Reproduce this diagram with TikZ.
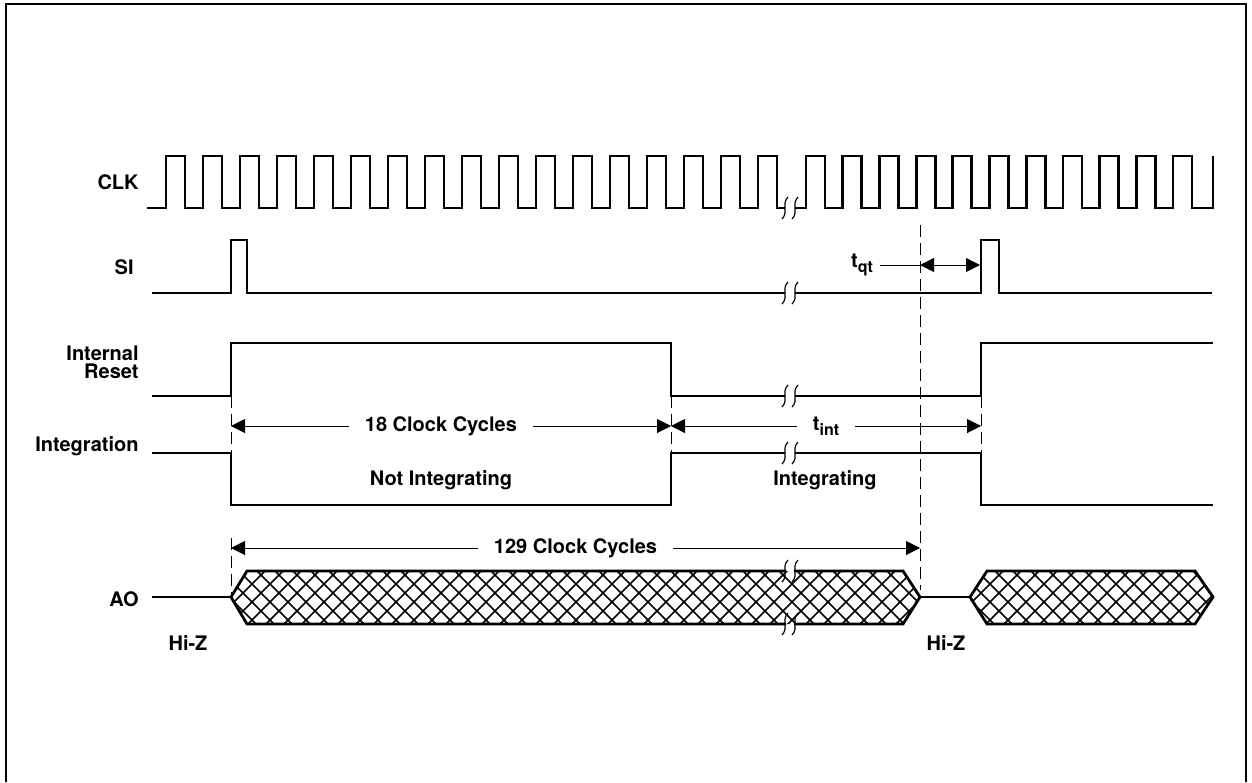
\documentclass[tikz,border=0pt]{standalone}
\usepackage{fontspec}
\setmainfont{TeX Gyre Heros}
\usetikzlibrary{arrows.meta,patterns}

\newcommand{\tsub}[1]{t\raisebox{-0.5ex}{\fontsize{8}{8}\selectfont #1}}

\pgfdeclarepatternformonly{aohatch}{\pgfqpoint{-1pt}{-1pt}}{\pgfqpoint{10pt}{10pt}}{\pgfqpoint{9pt}{9pt}}{%
  \pgfsetlinewidth{0.8pt}%
  \pgfpathmoveto{\pgfqpoint{0pt}{0pt}}\pgfpathlineto{\pgfqpoint{9pt}{9pt}}%
  \pgfpathmoveto{\pgfqpoint{0pt}{9pt}}\pgfpathlineto{\pgfqpoint{9pt}{0pt}}%
  \pgfusepath{stroke}}

\tikzset{
  sig/.style={line width=1.4pt, line join=miter},
  dim/.style={line width=0.5pt, {Triangle[length=7pt,width=7pt]}-{Triangle[length=7pt,width=7pt]}},
  ext/.style={line width=0.5pt, dash pattern=on 6pt off 3pt},
  lbl/.style={font={\bfseries\fontsize{10}{9}\selectfont}, anchor=east, inner xsep=1pt},
  txt/.style={font=\bfseries, fill=white, inner xsep=8pt},
  cut/.pic={
    \draw[line width=0.6pt] (-2,-11) .. controls (-9,-4) and (-1,4) .. (-8,11);
    \draw[line width=0.6pt] (8,-11) .. controls (1,-4) and (9,4) .. (2,11);
  },
  brk/.pic={
    \fill[white] (-2,-11) .. controls (-9,-4) and (-1,4) .. (-8,11) -- (2,11) .. controls (9,4) and (1,-4) .. (8,-11) -- cycle;
    \draw[line width=0.6pt] (-2,-11) .. controls (-9,-4) and (-1,4) .. (-8,11);
    \draw[line width=0.6pt] (8,-11) .. controls (1,-4) and (9,4) .. (2,11);
  }
}

\begin{document}
\begin{tikzpicture}[x=0.5pt, y=-0.5pt]
    \useasboundingbox (0,0) rectangle (1252,782);
    \draw[line width=1.3pt] (6,782) -- (6,4) -- (1246,4) -- (1246,782);

    % signal names
    \node[lbl] (clk) at (141,182) {CLK};
    \node[lbl] (si) at (136,267) {SI};
    \node[lbl, align=right] (rst) at (141,362) {Internal\\Reset};
    \node[lbl] (intg) at (141,446) {Integration};
    \node[lbl] (ao) at (141,599) {AO};

    % clock
    \draw[sig] (147,208)
        \foreach \i in {0,...,16} {-- ({166+37*\i},208) -- ({166+37*\i},156) -- ({185+37*\i},156) -- ({185+37*\i},208)}
        -- (797,208)
        \foreach \i in {0,...,10} {-- ({806+36.7*\i},208) -- ({806+36.7*\i},156) -- ({825+36.7*\i},156) -- ({825+36.7*\i},208)}
        -- (1213,208) -- (1213,156);

    % SI, reset, integration
    \draw[sig] (152,293) -- (231,293) -- (231,240) -- (247,240) -- (247,293) -- (981,293) -- (981,240) -- (999,240) -- (999,293) -- (1212,293);
    \draw[sig] (152,396) -- (231,396) -- (231,343) -- (671,343) -- (671,396) -- (981,396) -- (981,343) -- (1213,343);
    \draw[sig] (152,453) -- (231,453) -- (231,505) -- (671,505) -- (671,453) -- (981,453) -- (981,505) -- (1213,505);

    % AO
    \draw[sig] (152,597) -- (231,597);
    \draw[sig] (920,597) -- (970,597);
    \fill[pattern=aohatch] (231,597) -- (247,571) -- (903,571) -- (920,597) -- (903,624) -- (247,624) -- cycle;
    \draw[sig] (786,571) -- (247,571) -- (231,597) -- (247,624) -- (786,624)
        (794,624) -- (903,624) -- (920,597) -- (903,571) -- (794,571);
    \fill[pattern=aohatch] (970,597) -- (987,571) -- (1195,571) -- (1213,597) -- (1195,624) -- (987,624) -- cycle;
    \draw[sig] (970,597) -- (987,571) -- (1195,571) -- (1213,597) -- (1195,624) -- (987,624) -- cycle;

    % breaks
    \foreach \y in {208,293,396,453} {\pic at (790,\y) {brk};}
    \pic at (790,571) {cut};
    \pic at (790,624) {cut};

    % extension lines
    \draw[ext] (231,396) -- (231,453);
    \draw[ext] (671,396) -- (671,453);
    \draw[ext] (981,396) -- (981,453);
    \draw[ext] (231,538) -- (231,597);
    \draw[ext] (920,225) -- (920,590);

    % timing
    \coordinate (siA) at (231,426);
    \coordinate (rstB) at (671,426);
    \coordinate (siB) at (981,426);
    \draw[dim] (siA) -- (rstB) node[txt, pos=0.477] (cyc18) {18 Clock Cycles};
    \draw[dim] (rstB) -- (siB) node[txt, midway] (tint) {\tsub{int}};
    \coordinate (aoA) at (231,548);
    \coordinate (aoB) at (920,548);
    \draw[dim] (aoA) -- (aoB) node[txt, midway] (cyc129) {129 Clock Cycles};

    \node[font=\bfseries] (tqt) at (862,265) {\tsub{qt}};
    \coordinate (qtA) at (920,265);
    \coordinate (qtB) at (980,265);
    \draw[line width=0.5pt] (tqt.east) -- (qtA);
    \draw[dim] (qtA) -- (qtB);

    \node[font=\bfseries] (notint) at (441,480) {Not Integrating};
    \node[font=\bfseries] (integ) at (825,480) {Integrating};
    \node[font=\bfseries] (hiz1) at (188,643) {Hi-Z};
    \node[font=\bfseries] (hiz2) at (946,643) {Hi-Z};
\end{tikzpicture}
\end{document}
